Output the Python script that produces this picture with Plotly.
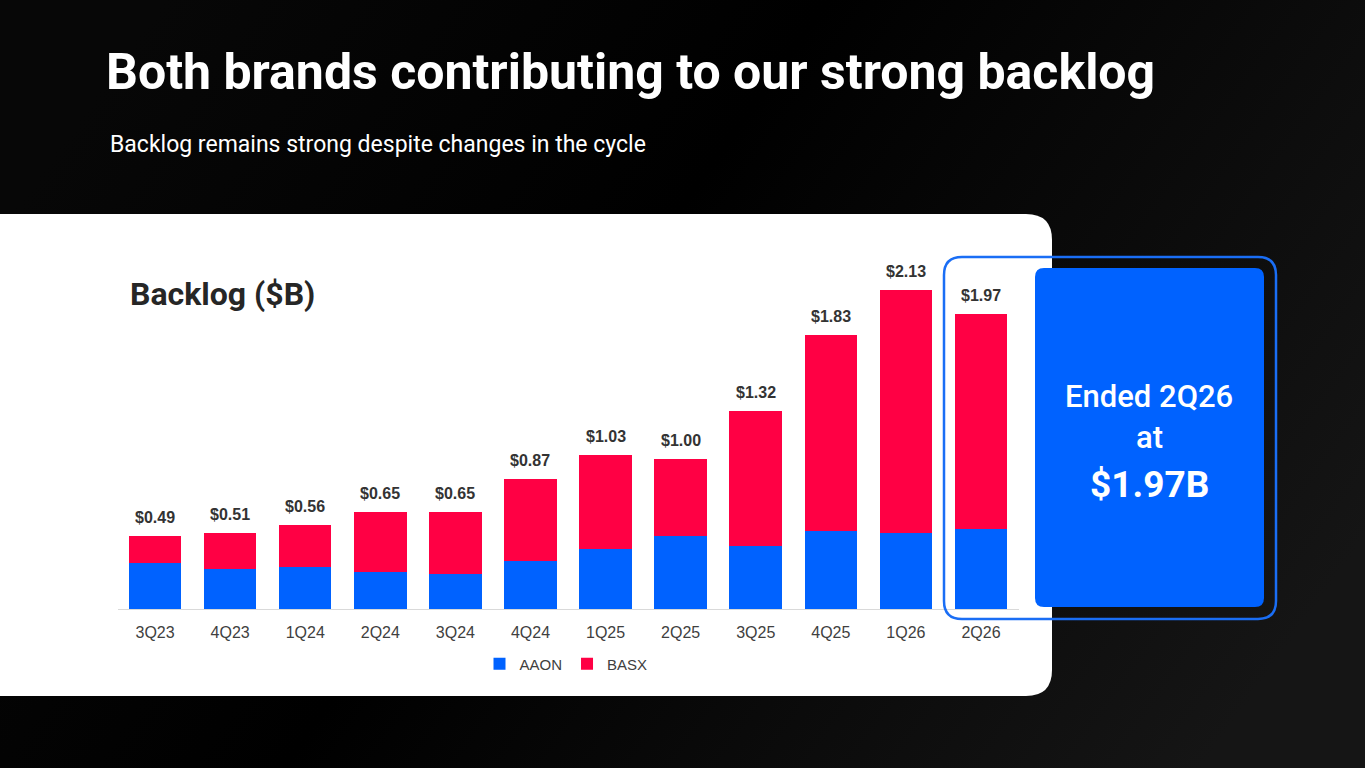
import base64
import plotly.graph_objects as go

W, H = 1365, 768

quarters = ["3Q23", "4Q23", "1Q24", "2Q24", "3Q24", "4Q24",
            "1Q25", "2Q25", "3Q25", "4Q25", "1Q26", "2Q26"]
totals = [0.49, 0.51, 0.56, 0.65, 0.65, 0.87, 1.03, 1.00, 1.32, 1.83, 2.13, 1.97]
aaon = [0.305, 0.27, 0.28, 0.25, 0.235, 0.32, 0.40, 0.49, 0.42, 0.52, 0.505, 0.535]
basx = [round(t - a, 3) for t, a in zip(totals, aaon)]
labels = [f"${t:.2f}" for t in totals]

BLUE = "#0062FF"
RED = "#FF0044"


def X(x):
    return x / W


def Y(y):
    return 1 - y / H


def rr(x0, y0, x1, y1, r):
    p = [
        f"M {X(x0 + r)},{Y(y0)}",
        f"L {X(x1 - r)},{Y(y0)}",
        f"Q {X(x1)},{Y(y0)} {X(x1)},{Y(y0 + r)}",
        f"L {X(x1)},{Y(y1 - r)}",
        f"Q {X(x1)},{Y(y1)} {X(x1 - r)},{Y(y1)}",
        f"L {X(x0 + r)},{Y(y1)}",
        f"Q {X(x0)},{Y(y1)} {X(x0)},{Y(y1 - r)}",
        f"L {X(x0)},{Y(y0 + r)}",
        f"Q {X(x0)},{Y(y0)} {X(x0 + r)},{Y(y0)}",
        "Z",
    ]
    return " ".join(p)


svg = (
    '<svg xmlns="http://www.w3.org/2000/svg" width="1365" height="768" preserveAspectRatio="none">'
    '<defs><linearGradient id="g" x1="0" y1="0.3" x2="1" y2="0.7">'
    '<stop offset="0" stop-color="#070707"/><stop offset="0.42" stop-color="#000000"/>'
    '<stop offset="1" stop-color="#151515"/></linearGradient></defs>'
    '<rect width="1365" height="768" fill="url(#g)"/></svg>'
)
bg_src = "data:image/svg+xml;base64," + base64.b64encode(svg.encode()).decode()

fig = go.Figure()
fig.add_trace(go.Bar(x=quarters, y=aaon, name="AAON", marker_color=BLUE,
                     marker_line_width=0, hoverinfo="skip"))
fig.add_trace(go.Bar(x=quarters, y=basx, name="BASX", marker_color=RED,
                     marker_line_width=0, hoverinfo="skip"))

annotations = []
for q, t, lab in zip(quarters, totals, labels):
    annotations.append(dict(x=q, y=t, xref="x", yref="y", text=f"<b>{lab}</b>",
                            showarrow=False, yanchor="bottom", yshift=8,
                            font=dict(family="Liberation Sans, Arial", size=16, color="#333333")))

annotations += [
    dict(x=X(104), y=Y(72), xref="paper", yref="paper", xanchor="left", yanchor="middle",
         text="<b>Both brands contributing to our strong backlog</b>", showarrow=False,
         font=dict(family="Roboto", size=50, color="#ffffff")),
    dict(x=X(108), y=Y(144), xref="paper", yref="paper", xanchor="left", yanchor="middle",
         text="Backlog remains strong despite changes in the cycle", showarrow=False,
         font=dict(family="Roboto", size=23, color="#ffffff")),
    dict(x=X(128), y=Y(294), xref="paper", yref="paper", xanchor="left", yanchor="middle",
         text="<b>Backlog ($B)</b>", showarrow=False,
         font=dict(family="Roboto", size=32, color="#262626")),
    dict(x=X(1149), y=Y(396), xref="paper", yref="paper", xanchor="center", yanchor="middle",
         text="Ended 2Q26", showarrow=False,
         font=dict(family="Roboto", size=31, color="#ffffff", weight=500)),
    dict(x=X(1149), y=Y(437), xref="paper", yref="paper", xanchor="center", yanchor="middle",
         text="at", showarrow=False,
         font=dict(family="Roboto", size=31, color="#ffffff", weight=500)),
    dict(x=X(1149), y=Y(484), xref="paper", yref="paper", xanchor="center", yanchor="middle",
         text="<b>$1.97B</b>", showarrow=False,
         font=dict(family="Roboto", size=37, color="#ffffff")),
]

shapes = [
    dict(type="path", xref="paper", yref="paper", path=rr(-40, 214, 1052, 696, 26),
         fillcolor="#ffffff", line=dict(width=0), layer="below"),
    dict(type="path", xref="paper", yref="paper", path=rr(1035, 268, 1264, 607, 9),
         fillcolor="#0062FF", line=dict(width=0), layer="above"),
    dict(type="path", xref="paper", yref="paper", path=rr(944, 257, 1276, 619, 18),
         fillcolor="rgba(0,0,0,0)", line=dict(width=2.5, color="#1a6ef5"), layer="above"),
]

fig.update_layout(
    width=W, height=H,
    margin=dict(l=0, r=0, t=0, b=0),
    paper_bgcolor="#000000",
    plot_bgcolor="rgba(0,0,0,0)",
    barmode="stack",
    bargap=0.30,
    showlegend=True,
    legend=dict(orientation="h", x=X(566), y=Y(664), xanchor="center", yanchor="middle",
                font=dict(family="Liberation Sans, Arial", size=15, color="#404040"),
                bgcolor="rgba(0,0,0,0)", itemwidth=30, traceorder="normal"),
    xaxis=dict(domain=[X(117.5), X(1018.5)], showgrid=False, zeroline=False,
               showline=True, linecolor="#d9d9d9", linewidth=1,
               ticks="outside", ticklen=9, tickcolor="rgba(0,0,0,0)",
               tickfont=dict(family="Liberation Sans, Arial", size=16, color="#404040"),
               fixedrange=True),
    yaxis=dict(domain=[Y(609), Y(249.5)], range=[0, 2.4], visible=False, fixedrange=True),
    annotations=annotations,
    shapes=shapes,
    images=[dict(source=bg_src, xref="paper", yref="paper", x=0, y=1, sizex=1, sizey=1,
                 xanchor="left", yanchor="top", sizing="stretch", layer="below")],
    hovermode=False,
)

fig.write_html("out.html", config={"displayModeBar": False},
               post_script="document.body.style.margin='0';document.body.style.overflow='hidden';")
